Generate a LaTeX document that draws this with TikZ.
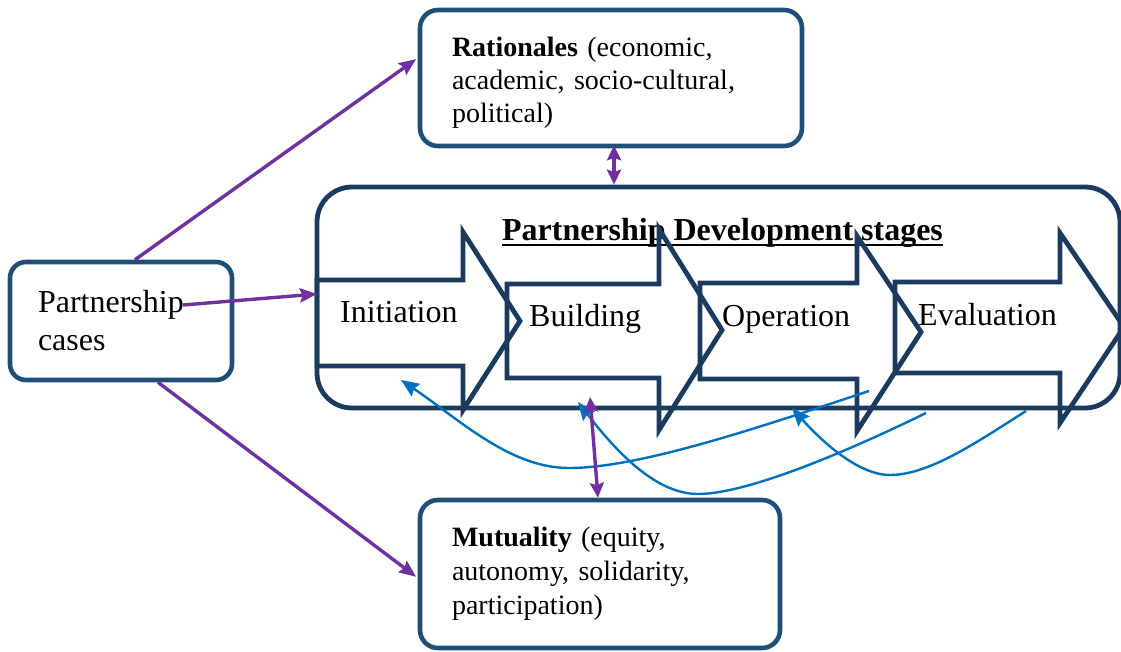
\documentclass[tikz,border=0pt]{standalone}
\usepackage{fontspec}
\setmainfont{Liberation Serif}
\usetikzlibrary{arrows.meta}
\definecolor{boxblue}{HTML}{1F4E79}
\definecolor{navy}{HTML}{1B3A60}
\definecolor{linkpurple}{HTML}{7030A0}
\definecolor{linkblue}{HTML}{0070C0}
\begin{document}
\begin{tikzpicture}[x=1pt,y=-1pt,
  box/.style={draw=boxblue, line width=4.6pt, rounded corners=18pt, align=left, inner sep=0pt},
  stagearrow/.style={draw=navy, line width=4.8pt, line join=miter},
  stagelabel/.style={anchor=base west, inner sep=0pt, font=\fontsize{32}{37}\selectfont},
  plink/.style={draw=linkpurple, line width=3.4pt, -{Stealth[length=17pt,width=14pt,inset=2.5pt]}},
  pboth/.style={draw=linkpurple, line width=3.4pt, {Stealth[length=15pt,width=14pt,inset=2.5pt]}-{Stealth[length=15pt,width=14pt,inset=2.5pt]}},
  blink/.style={draw=linkblue, line width=2.4pt, -{Stealth[length=18pt,width=15pt,inset=2.5pt]}}]
\useasboundingbox (0,0) rectangle (1121,651);
\clip (0,0) rectangle (1121,651);

% boxes
\node[box, minimum width=382pt, minimum height=136pt, text width=318pt,
      font=\fontsize{28}{33}\selectfont] (rat) at (611,78)
  {\rule{0pt}{29pt}\textbf{Rationales} (economic,\\ academic, socio-cultural,\\ political)};
\node[box, minimum width=360pt, minimum height=148pt, text width=296pt,
      font=\fontsize{28}{34}\selectfont] (mut) at (600,574)
  {\textbf{Mutuality} (equity,\\ autonomy, solidarity,\\ participation)};
\node[box, rounded corners=16pt, minimum width=222pt, minimum height=118pt, text width=166pt,
      font=\fontsize{32}{38}\selectfont] (cases) at (121,321)
  {Partnership\\ cases};

% frame of the development stages
\node[draw=navy, line width=4.8pt, rounded corners=35pt, minimum width=803pt,
      minimum height=221pt, inner sep=0pt] (frame) at (718.5,297.5) {};
\node[anchor=base, inner sep=0pt, font=\fontsize{32}{37}\selectfont\bfseries] (title) at (722.5,240)
  {Partnership Development stages};
\draw[line width=2.8pt] ([yshift=-5pt]title.base west) -- ([yshift=-5pt]title.base east);

% stage block arrows
\draw[stagearrow] (317,280) -- (463,280) -- (463,232) -- (520,321) -- (463,410) -- (463,366) -- (317,366) -- cycle;
\draw[stagearrow] (507,284) -- (659,284) -- (659,229) -- (722,330) -- (659,430) -- (659,378) -- (507,378) -- cycle;
\draw[stagearrow] (700,283) -- (857,283) -- (857,236) -- (921,332) -- (857,431) -- (857,379) -- (700,379) -- cycle;
\draw[stagearrow] (895,282) -- (1060,282) -- (1060,233) -- (1124,327) -- (1060,423) -- (1060,373) -- (895,373) -- cycle;
\coordinate (initin) at (317,294);

\node[stagelabel] (ini) at (340,322) {Initiation};
\node[stagelabel] (bui) at (529,326) {Building};
\node[stagelabel] (ope) at (722,326) {Operation};
\node[stagelabel] (eva) at (918,325) {Evaluation};

% feedback loops
\coordinate (fa) at (869,391); \coordinate (fam) at (569,468); \coordinate (fat) at (401,380);
\coordinate (fb) at (926,413); \coordinate (fbm) at (698,494); \coordinate (fbt) at (578,402);
\coordinate (fc) at (1026,411); \coordinate (fcm) at (890,475); \coordinate (fct) at (792,408);
\draw[blink] (fa) .. controls (760,427) and (640,468) .. (fam) .. controls (510,468) and (460,420) .. (fat);
\draw[blink] (fb) .. controls (840,455) and (745,494) .. (fbm) .. controls (655,494) and (615,450) .. (fbt);
\draw[blink] (fc) .. controls (980,440) and (930,475) .. (fcm) .. controls (860,475) and (825,445) .. (fct);

% links from the cases
\draw[plink, shorten >=2pt] ([xshift=14pt]cases.north) -- ([yshift=20pt]rat.west);
\draw[plink, shorten >=2pt] ([xshift=37pt]cases.south) -- ([yshift=-4pt]mut.west);
\draw[plink] ([xshift=62pt,yshift=16pt]cases.center) -- (initin);
\draw[pboth, shorten <=-3pt] ([xshift=3pt]rat.south) -- ([xshift=3pt]rat.south |- frame.north);
\coordinate (bfoot) at (590,397);
\draw[pboth] (bfoot) -- ([xshift=-2pt]mut.north);
\end{tikzpicture}
\end{document}
